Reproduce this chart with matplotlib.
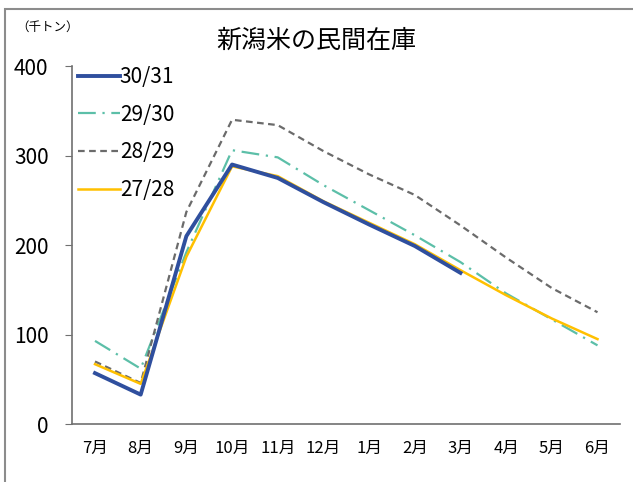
import matplotlib
matplotlib.use("Agg")
import matplotlib.pyplot as plt
from matplotlib.patches import Rectangle

plt.rcParams['font.family'] = ['Noto Sans CJK JP', 'DejaVu Sans']

months = ['7月', '8月', '9月', '10月', '11月', '12月', '1月', '2月', '3月', '4月', '5月', '6月']
s3031 = [57, 33, 210, 290, 275, 248, 223, 199, 169]
s2930 = [93, 62, 192, 306, 298, 267, 239, 211, 181, 146, 117, 88]
s2829 = [70, 46, 237, 340, 334, 305, 279, 256, 222, 186, 152, 125]
s2728 = [67, 45, 187, 288, 277, 249, 225, 201, 172, 144, 118, 95]

fig = plt.figure(figsize=(6.33, 4.82), dpi=100)
# outer frame, only top and left edges fall inside the picture
fig.patches.append(Rectangle((0.008, -0.05), 1.2, 1.031, transform=fig.transFigure,
                             fill=False, edgecolor='#8c8c8c', linewidth=1.5))
ax = fig.add_axes([0.114, 0.12, 0.866, 0.743])

x = range(len(months))
ax.plot(range(len(s3031)), s3031, color='#2f4f9e', lw=2.8, label='30/31', zorder=5)
ax.plot(x, s2930, color='#5cbfa8', lw=1.6, ls=(0, (8, 3, 1, 3)), label='29/30')
ax.plot(x, s2829, color='#6b6b6b', lw=1.6, ls=(0, (3, 2)), label='28/29')
ax.plot(x, s2728, color='#ffc000', lw=1.8, label='27/28', zorder=4)

ax.set_xlim(-0.5, 11.5)
ax.set_ylim(0, 400)
ax.set_yticks([0, 100, 200, 300, 400])
ax.set_xticks(list(x))
ax.set_xticklabels(months)
ax.tick_params(axis='y', labelsize=15, length=5, color='#707070', pad=12)
ax.tick_params(axis='x', labelsize=12, length=0, pad=11)
for s in ['top', 'right']:
    ax.spines[s].set_visible(False)
for s in ['left', 'bottom']:
    ax.spines[s].set_color('#707070')
    ax.spines[s].set_linewidth(1.2)

ax.legend(loc='upper left', bbox_to_anchor=(-0.012, 1.035), borderaxespad=0.2, frameon=False,
          fontsize=15, handlelength=2.0, handletextpad=0.0, labelspacing=0.75)

fig.text(0.5, 0.915, '新潟米の民間在庫', ha='center', va='center', fontsize=18)
fig.text(0.025, 0.943, '（千トン）', ha='left', va='center', fontsize=9)

fig.savefig('out.png', dpi=100)
